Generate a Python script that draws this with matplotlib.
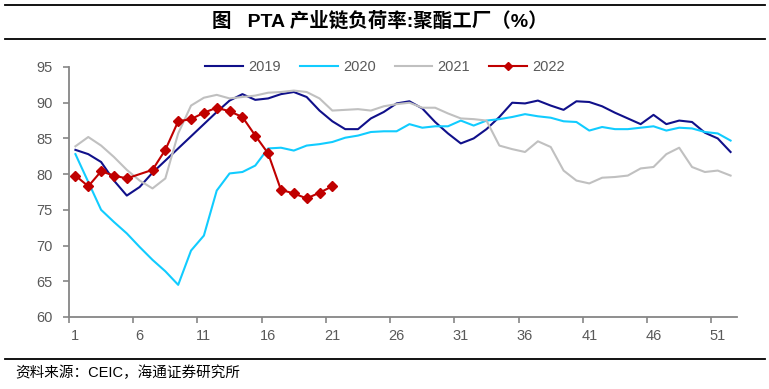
import matplotlib
matplotlib.use("Agg")
import matplotlib.pyplot as plt
from matplotlib.lines import Line2D

plt.rcParams['font.family'] = ['Liberation Sans', 'Noto Sans CJK SC', 'DejaVu Sans']

weeks = list(range(1, 53))

y2019 = [83.4, 82.8, 81.7, 79.1, 77.0, 78.2, 80.2, 81.9, 83.6, 85.3,
         87.0, 88.7, 90.3, 91.2, 90.4, 90.6, 91.2, 91.5, 90.8, 88.9,
         87.4, 86.3, 86.3, 87.8, 88.7, 89.9, 90.2, 89.2, 87.3, 85.7,
         84.3, 85.0, 86.3, 88.0, 90.0, 89.9, 90.3, 89.6, 89.0, 90.2,
         90.1, 89.5, 88.6, 87.8, 87.0, 88.3, 87.0, 87.5, 87.3, 85.8,
         85.0, 83.1]

y2020 = [82.8, 78.9, 75.0, 73.3, 71.7, 69.8, 68.0, 66.4, 64.5, 69.3,
         71.4, 77.7, 80.1, 80.3, 81.2, 83.6, 83.7, 83.3, 84.0, 84.2,
         84.5, 85.1, 85.4, 85.9, 86.0, 86.0, 87.0, 86.5, 86.7, 86.7,
         87.5, 86.8, 87.5, 87.7, 88.0, 88.4, 88.1, 87.9, 87.4, 87.3,
         86.1, 86.6, 86.3, 86.3, 86.5, 86.7, 86.1, 86.5, 86.4, 85.9,
         85.7, 84.7]

y2021 = [83.9, 85.2, 84.0, 82.4, 80.6, 79.1, 78.0, 79.4, 85.7, 89.6,
         90.7, 91.1, 90.6, 90.8, 91.0, 91.4, 91.5, 91.7, 91.5, 90.6,
         88.9, 89.0, 89.1, 88.9, 89.5, 89.8, 90.0, 89.3, 89.3, 88.5,
         87.8, 87.7, 87.5, 84.0, 83.5, 83.1, 84.6, 83.8, 80.5, 79.1,
         78.7, 79.5, 79.6, 79.8, 80.8, 81.0, 82.8, 83.7, 81.0, 80.3,
         80.5, 79.8]

weeks2022 = [1, 2, 3, 4, 5, 7, 8, 9, 10, 11, 12, 13, 14, 15, 16, 17, 18, 19, 20, 21]
y2022 = [79.8, 78.3, 80.4, 79.8, 79.4, 80.6, 83.4, 87.4, 87.7, 88.6,
         89.3, 88.8, 88.0, 85.4, 82.9, 77.8, 77.3, 76.6, 77.4, 78.3]

xtick_labels = ['1', '6', '11', '16', '21', '26', '31', '36', '41', '46', '51']
yticks = [60, 65, 70, 75, 80, 85, 90, 95]

title = "图   PTA 产业链负荷率:聚酯工厂（%）"
source = "资料来源：CEIC，海通证券研究所"

W, H = 769, 389
fig = plt.figure(figsize=(W / 100, H / 100), dpi=100)
ax = fig.add_axes([69 / W, 1 - 317 / H, (737 - 69) / W, (317 - 67) / H])

lw = 1.5
ax.plot(weeks, y2019, color='#10108A', lw=lw, label='2019')
ax.plot(weeks, y2020, color='#11CCFF', lw=lw, label='2020')
ax.plot(weeks, y2021, color='#C0C0C0', lw=lw, label='2021')
ax.plot(weeks2022, y2022, color='#C00000', lw=lw, marker='D', markersize=5.5,
        label='2022')

ax.set_xlim(0.5, 52.5)
ax.set_ylim(60, 95)

spine_col = '#868686'
text_col = '#595959'
for s in ['top', 'right']:
    ax.spines[s].set_visible(False)
for s in ['left', 'bottom']:
    ax.spines[s].set_color(spine_col)
    ax.spines[s].set_linewidth(1.3)

ax.set_yticks(yticks)
ax.set_yticklabels([str(v) for v in yticks])
ax.tick_params(axis='y', direction='out', length=4, width=1.2, color=spine_col,
               labelsize=10.5, labelcolor=text_col, pad=8)

major = [int(s) for s in xtick_labels]
ax.set_xticks(major)
ax.set_xticklabels(xtick_labels)
ax.set_xticks([m - 0.5 for m in major], minor=True)
ax.tick_params(axis='x', which='major', length=0, labelsize=10.5,
               labelcolor=text_col, pad=9)
ax.tick_params(axis='x', which='minor', direction='out', length=4, width=1.2,
               color=spine_col)

leg = ax.legend(loc='center', bbox_to_anchor=(0.473, 1.0), ncol=4, frameon=False,
                fontsize=10.5, handlelength=2.6, handletextpad=0.35,
                columnspacing=1.3, borderaxespad=0, markerscale=0.8)
for t in leg.get_texts():
    t.set_color(text_col)

# title band and footer rules
for yy in [1 - 5 / H, 1 - 39 / H, 1 - 359 / H]:
    fig.add_artist(Line2D([5 / W, 765 / W], [yy, yy], transform=fig.transFigure,
                          color='black', lw=1.3))

fig.text(380 / W, 1 - 21 / H, title, ha='center', va='center', fontsize=14,
         fontweight='bold', family=['Liberation Sans', 'Noto Sans CJK SC'])
fig.text(15 / W, 1 - 373 / H, source, ha='left', va='center', fontsize=10.5,
         family=['Liberation Sans', 'Noto Sans CJK SC'], color='black')

fig.savefig('out.png', dpi=100)
